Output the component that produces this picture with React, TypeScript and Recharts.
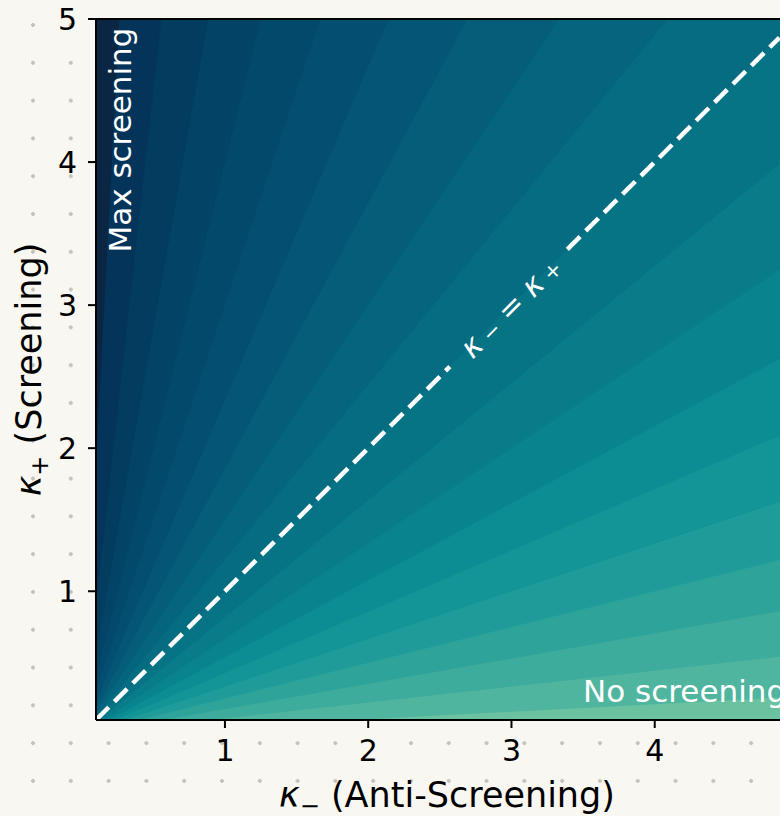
import React from 'react';
import { ComposedChart, Area, XAxis, YAxis, ReferenceLine, ReferenceDot } from 'recharts';

const K_MIN = 0.1;
const K_MAX = 5;
const X_TICKS = [1, 2, 3, 4, 5];
const Y_TICKS = [1, 2, 3, 4, 5];

// lower edge of each filled band, t = κ- / (κ- + κ+)
const LEVELS = [0, 0.05, 0.1, 0.15, 0.2, 0.25, 0.3, 0.35, 0.4, 0.45, 0.5, 0.55, 0.6, 0.65, 0.7, 0.75, 0.8, 0.85, 0.9, 0.95];
const BAND_COLORS = [
  '#0a2643', '#04345a', '#023c5f', '#024366', '#03496c',
  '#044f71', '#055676', '#055d7a', '#06657e', '#066c81',
  '#077485', '#087c89', '#09848e', '#0c8c93', '#139497',
  '#1f9c99', '#2ea39a', '#3eac9c', '#50b59e', '#6ac2a1',
];

// κ- = κ+ dashed line, broken where the label sits
const DIAGONAL = [
  [0.1, 2.57],
  [3.39, 4.87],
];

const FONT = 'DejaVu Sans';
const W = 820;
const H = 816;

// region t >= level is everything below the ray κ+ = κ- (1 - t) / t
const rayData = (t: number) => {
  const slope = Math.min((1 - t) / t, 10000);
  return [
    { x: 0, y: 0 },
    { x: K_MAX, y: K_MAX * slope },
  ];
};

const XTitle = (props: any) => {
  const vb = props.viewBox || { x: 96, y: 720, width: 702, height: 96 };
  const cx = vb.x + vb.width / 2;
  return (
    <text x={cx} y={807} textAnchor="middle" fontSize={35} fontFamily={FONT} fill="#000">
      <tspan fontStyle="italic">κ</tspan>
      <tspan fontSize={24} dy={7}>−</tspan>
      <tspan dy={-7}>{'  (Anti-Screening)'}</tspan>
    </text>
  );
};

const YTitle = (props: any) => {
  const vb = props.viewBox || { x: 0, y: 19, width: 96, height: 701 };
  const cy = vb.y + vb.height / 2;
  const x = 41;
  return (
    <text x={x} y={cy} transform={`rotate(-90 ${x} ${cy})`} textAnchor="middle" fontSize={35} fontFamily={FONT} fill="#000">
      <tspan fontStyle="italic">κ</tspan>
      <tspan fontSize={24} dy={7}>+</tspan>
      <tspan dy={-7}>{'  (Screening)'}</tspan>
    </text>
  );
};

const center = (vb: any) => ({ cx: vb.x + (vb.width || 0) / 2, cy: vb.y + (vb.height || 0) / 2 });

const MaxLabel = (props: any) => {
  const { cx, cy } = center(props.viewBox);
  return (
    <text x={cx} y={cy} transform={`rotate(-90 ${cx} ${cy})`} textAnchor="end" dominantBaseline="central" fontSize={31} fontFamily={FONT} fill="#fff">
      Max screening
    </text>
  );
};

const NoLabel = (props: any) => {
  const { cx, cy } = center(props.viewBox);
  return (
    <text x={cx} y={cy} textAnchor="start" dominantBaseline="central" fontSize={31} fontFamily={FONT} fill="#fff">
      No screening
    </text>
  );
};

const DiagLabel = (props: any) => {
  const { cx, cy } = center(props.viewBox);
  return (
    <text x={cx} y={cy} transform={`rotate(-45 ${cx} ${cy})`} textAnchor="middle" dominantBaseline="central" fontSize={30} fontFamily={FONT} fill="#fff">
      <tspan fontStyle="italic">κ</tspan>
      <tspan fontSize={21} dy={5}>{' −'}</tspan>
      <tspan dy={-5}>{' = '}</tspan>
      <tspan fontStyle="italic">κ</tspan>
      <tspan fontSize={21} dy={5}>{' +'}</tspan>
    </text>
  );
};

const axisLine = { stroke: '#000', strokeWidth: 2 };
const tickStyle = { fill: '#000', fontSize: 30, fontFamily: FONT };

export default function App() {
  return (
    <div
      style={{
        position: 'absolute',
        left: 0,
        top: 0,
        width: 780,
        height: 816,
        overflow: 'hidden',
        backgroundColor: '#f9f7f1',
        backgroundImage: 'radial-gradient(circle, #c6c3bc 1.6px, rgba(0,0,0,0) 2.2px)',
        backgroundSize: '37.8px 37.8px',
        backgroundPosition: '14.1px 6.1px',
      }}
    >
      <ComposedChart width={W} height={H} margin={{ top: 19, right: 22, bottom: 0, left: 0 }}>
        {LEVELS.map((t, i) => (
          <Area
            key={t}
            data={rayData(t)}
            dataKey="y"
            type="linear"
            baseValue={0}
            fill={BAND_COLORS[i]}
            fillOpacity={1}
            stroke="none"
            dot={false}
            activeDot={false}
            isAnimationActive={false}
          />
        ))}
        {DIAGONAL.map(([a, b]) => (
          <ReferenceLine
            key={a}
            segment={[{ x: a, y: a }, { x: b, y: b }]}
            stroke="#fff"
            strokeWidth={4.5}
            strokeDasharray="18 8"
            ifOverflow="visible"
          />
        ))}
        <ReferenceDot x={0.27} y={4.94} r={1} fill="none" stroke="none" label={{ content: MaxLabel }} />
        <ReferenceDot x={3.5} y={0.3} r={1} fill="none" stroke="none" label={{ content: NoLabel }} />
        <ReferenceDot x={2.99} y={2.99} r={1} fill="none" stroke="none" label={{ content: DiagLabel }} />
        <ReferenceLine y={K_MAX} stroke="#000" strokeWidth={2} ifOverflow="visible" />
        <ReferenceLine x={K_MAX} stroke="#000" strokeWidth={2} ifOverflow="visible" />
        <XAxis
          type="number"
          dataKey="x"
          domain={[K_MIN, K_MAX]}
          ticks={X_TICKS}
          allowDataOverflow
          height={96}
          axisLine={axisLine}
          tickLine={axisLine}
          tickSize={8}
          tickMargin={12}
          tick={tickStyle}
          label={{ content: XTitle }}
        />
        <YAxis
          type="number"
          domain={[K_MIN, K_MAX]}
          ticks={Y_TICKS}
          allowDataOverflow
          width={96}
          axisLine={axisLine}
          tickLine={axisLine}
          tickSize={8}
          tickMargin={11}
          tick={tickStyle}
          label={{ content: YTitle }}
        />
      </ComposedChart>
    </div>
  );
}
